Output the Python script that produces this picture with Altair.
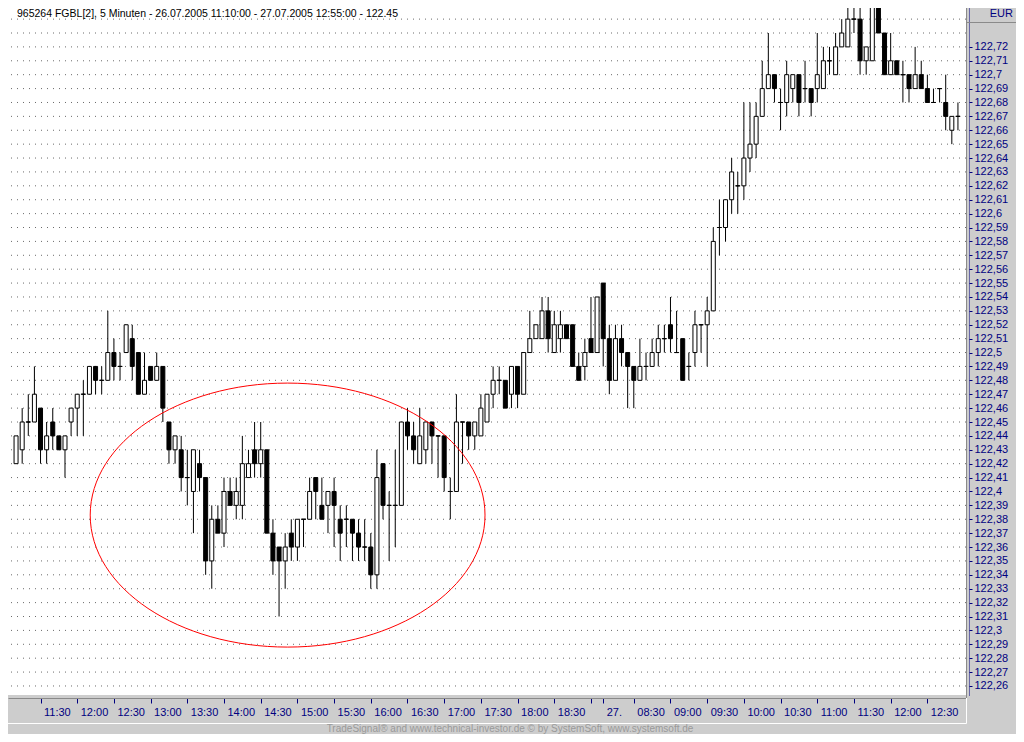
import altair as alt
import pandas as pd

# ---------------- data ----------------
OPEN = [122.42, 122.43, 122.45, 122.45, 122.46, 122.43, 122.45, 122.44, 122.43, 122.45,
        122.46, 122.47, 122.47, 122.49, 122.48, 122.48, 122.50, 122.49, 122.50, 122.51,
        122.50, 122.47, 122.49, 122.48, 122.49, 122.45, 122.43, 122.43, 122.41, 122.40,
        122.42, 122.41, 122.35, 122.38, 122.37, 122.40, 122.39, 122.39, 122.41, 122.43,
        122.42, 122.43, 122.37, 122.36, 122.35, 122.37, 122.36, 122.38, 122.38, 122.41,
        122.39, 122.39, 122.40, 122.38, 122.38, 122.38, 122.37, 122.36, 122.36, 122.34,
        122.42, 122.39, 122.39, 122.39, 122.45, 122.44, 122.42, 122.43, 122.45, 122.44,
        122.44, 122.40, 122.40, 122.45, 122.45, 122.44, 122.44, 122.45, 122.47, 122.48,
        122.48, 122.47, 122.49, 122.47, 122.50, 122.51, 122.51, 122.53, 122.50, 122.51,
        122.52, 122.52, 122.49, 122.49, 122.51, 122.50, 122.55, 122.51, 122.48, 122.51,
        122.50, 122.49, 122.48, 122.49, 122.49, 122.50, 122.51, 122.52, 122.50, 122.51,
        122.49, 122.50, 122.52, 122.52, 122.53, 122.59, 122.59, 122.61, 122.62, 122.62,
        122.64, 122.65, 122.67, 122.69, 122.70, 122.68, 122.68, 122.69, 122.70, 122.69,
        122.69, 122.69, 122.69, 122.71, 122.70, 122.72, 122.72, 122.74, 122.74, 122.71,
        122.71, 122.75, 122.73, 122.70, 122.71, 122.70, 122.70, 122.69, 122.70, 122.69,
        122.68, 122.69, 122.68, 122.66, 122.67]
HIGH = [122.44, 122.46, 122.47, 122.49, 122.46, 122.45, 122.46, 122.44, 122.44, 122.46,
        122.47, 122.48, 122.49, 122.49, 122.49, 122.53, 122.51, 122.50, 122.52, 122.52,
        122.50, 122.50, 122.49, 122.50, 122.49, 122.45, 122.44, 122.44, 122.43, 122.43,
        122.43, 122.41, 122.39, 122.39, 122.41, 122.41, 122.41, 122.44, 122.43, 122.45,
        122.45, 122.43, 122.38, 122.36, 122.37, 122.38, 122.38, 122.38, 122.41, 122.41,
        122.41, 122.40, 122.41, 122.39, 122.39, 122.38, 122.38, 122.38, 122.37, 122.43,
        122.42, 122.40, 122.43, 122.45, 122.46, 122.45, 122.46, 122.45, 122.45, 122.44,
        122.44, 122.41, 122.47, 122.45, 122.45, 122.45, 122.47, 122.47, 122.49, 122.49,
        122.48, 122.49, 122.49, 122.50, 122.53, 122.52, 122.54, 122.54, 122.53, 122.53,
        122.52, 122.52, 122.50, 122.51, 122.54, 122.54, 122.55, 122.52, 122.52, 122.52,
        122.50, 122.49, 122.51, 122.50, 122.51, 122.52, 122.52, 122.54, 122.53, 122.51,
        122.50, 122.53, 122.52, 122.54, 122.59, 122.61, 122.61, 122.64, 122.63, 122.68,
        122.68, 122.68, 122.71, 122.73, 122.70, 122.69, 122.71, 122.70, 122.70, 122.71,
        122.69, 122.73, 122.72, 122.72, 122.73, 122.74, 122.75, 122.75, 122.76, 122.72,
        122.76, 122.76, 122.73, 122.73, 122.71, 122.71, 122.70, 122.72, 122.71, 122.70,
        122.69, 122.69, 122.70, 122.67, 122.68]
LOW = [122.42, 122.42, 122.44, 122.45, 122.42, 122.42, 122.43, 122.43, 122.41, 122.44,
       122.44, 122.44, 122.47, 122.47, 122.47, 122.48, 122.48, 122.48, 122.50, 122.48,
       122.47, 122.47, 122.48, 122.48, 122.45, 122.42, 122.42, 122.40, 122.39, 122.37,
       122.40, 122.34, 122.33, 122.37, 122.36, 122.39, 122.38, 122.38, 122.41, 122.41,
       122.41, 122.37, 122.34, 122.31, 122.33, 122.35, 122.35, 122.36, 122.38, 122.38,
       122.38, 122.37, 122.36, 122.35, 122.36, 122.35, 122.35, 122.35, 122.33, 122.33,
       122.38, 122.35, 122.36, 122.39, 122.43, 122.42, 122.42, 122.42, 122.42, 122.41,
       122.40, 122.38, 122.40, 122.42, 122.43, 122.43, 122.44, 122.45, 122.46, 122.47,
       122.46, 122.46, 122.46, 122.47, 122.50, 122.51, 122.51, 122.50, 122.50, 122.50,
       122.51, 122.49, 122.48, 122.48, 122.50, 122.50, 122.49, 122.47, 122.48, 122.49,
       122.46, 122.46, 122.48, 122.48, 122.49, 122.49, 122.50, 122.50, 122.50, 122.48,
       122.48, 122.49, 122.50, 122.49, 122.53, 122.57, 122.58, 122.60, 122.60, 122.61,
       122.63, 122.64, 122.67, 122.69, 122.68, 122.66, 122.67, 122.68, 122.67, 122.68,
       122.67, 122.68, 122.69, 122.70, 122.70, 122.72, 122.72, 122.73, 122.70, 122.70,
       122.71, 122.73, 122.70, 122.70, 122.70, 122.68, 122.68, 122.69, 122.69, 122.68,
       122.68, 122.68, 122.66, 122.65, 122.66]
CLOSE = [122.44, 122.45, 122.45, 122.47, 122.43, 122.44, 122.44, 122.43, 122.44, 122.46,
         122.47, 122.47, 122.49, 122.48, 122.48, 122.50, 122.49, 122.49, 122.52, 122.49,
         122.47, 122.48, 122.48, 122.49, 122.46, 122.43, 122.44, 122.41, 122.41, 122.43,
         122.41, 122.35, 122.38, 122.37, 122.40, 122.39, 122.40, 122.42, 122.42, 122.42,
         122.43, 122.37, 122.35, 122.35, 122.36, 122.36, 122.38, 122.38, 122.40, 122.40,
         122.38, 122.40, 122.39, 122.37, 122.38, 122.37, 122.36, 122.36, 122.34, 122.41,
         122.39, 122.39, 122.39, 122.45, 122.44, 122.43, 122.44, 122.45, 122.44, 122.44,
         122.41, 122.40, 122.45, 122.45, 122.44, 122.45, 122.46, 122.47, 122.48, 122.48,
         122.46, 122.49, 122.47, 122.50, 122.51, 122.52, 122.53, 122.51, 122.52, 122.52,
         122.51, 122.49, 122.48, 122.50, 122.50, 122.54, 122.51, 122.48, 122.51, 122.50,
         122.49, 122.48, 122.49, 122.49, 122.50, 122.51, 122.51, 122.51, 122.50, 122.48,
         122.49, 122.52, 122.52, 122.53, 122.58, 122.59, 122.61, 122.63, 122.62, 122.64,
         122.65, 122.67, 122.69, 122.70, 122.69, 122.68, 122.70, 122.70, 122.68, 122.69,
         122.68, 122.70, 122.71, 122.71, 122.72, 122.73, 122.74, 122.74, 122.71, 122.72,
         122.75, 122.73, 122.70, 122.71, 122.70, 122.70, 122.69, 122.70, 122.69, 122.68,
         122.68, 122.69, 122.67, 122.67, 122.67]
BARS = list(range(len(OPEN)))

X_TICK_BARS = [4, 10, 16, 22, 28, 34, 40, 46, 52, 58, 64, 70, 76, 82, 88, 94,
               96, 101, 107, 113, 119, 125, 131, 137, 143, 149]
X_TICK_LABELS = ["11:30", "12:00", "12:30", "13:00", "13:30", "14:00", "14:30", "15:00",
                 "15:30", "16:00", "16:30", "17:00", "17:30", "18:00", "18:30", "",
                 "27.", "08:30", "09:00", "09:30", "10:00", "10:30", "11:00", "11:30",
                 "12:00", "12:30"]

Y_LABEL_PRICES = [122.26, 122.27, 122.28, 122.29, 122.30, 122.31, 122.32, 122.33, 122.34,
                  122.35, 122.36, 122.37, 122.38, 122.39, 122.40, 122.41, 122.42, 122.43,
                  122.44, 122.45, 122.46, 122.47, 122.48, 122.49, 122.50, 122.51, 122.52,
                  122.53, 122.54, 122.55, 122.56, 122.57, 122.58, 122.59, 122.60, 122.61,
                  122.62, 122.63, 122.64, 122.65, 122.66, 122.67, 122.68, 122.69, 122.70,
                  122.71, 122.72]
GRID_PRICES = Y_LABEL_PRICES + [122.73, 122.74]

TITLE = "965264  FGBL[2], 5 Minuten - 26.07.2005 11:10:00 - 27.07.2005 12:55:00 - 122.45"
FOOTER = "TradeSignal\u00ae and www.technical-investor.de \u00a9 by SystemSoft, www.systemsoft.de"
CURRENCY = "EUR"

# annotation ellipse (centre in data units)
ELLIPSE_BAR = 44.4
ELLIPSE_PRICE = 122.383

# ---------------- layout / style ----------------
W, H = 958, 687          # plot area
PAD_R, PAD_B = 50, 39    # right price panel, bottom time strip + footer
NAVY = "#000080"
PANEL = "#cdcdcd"
FONT = "Liberation Sans"

df = pd.DataFrame({"bar": BARS, "o": OPEN, "h": HIGH, "l": LOW, "c": CLOSE})

xlab_expr = "[" + ",".join("'%s'" % s for s in X_TICK_LABELS) + "][indexof([" + \
    ",".join(str(b) for b in X_TICK_BARS) + "], datum.value)]"

XS = alt.Scale(domain=[-0.5, 154.5], nice=False, zero=False)
YS = alt.Scale(domain=[122.2535, 122.748], nice=False, zero=False)

XAX = alt.Axis(orient="bottom", values=X_TICK_BARS, labelExpr=xlab_expr, offset=3,
               tickSize=5, tickColor=NAVY, domainColor="#8a8a8a", labelColor=NAVY,
               labelFont=FONT, labelFontSize=11, labelAlign="left", labelBaseline="top",
               labelOffset=3, labelPadding=3, labelOverlap=False, labelFlush=False,
               labelBound=False, grid=False, title=None)
YAX = alt.Axis(orient="right", values=Y_LABEL_PRICES,
               labelExpr="replace(format(datum.value, '.2~f'), '.', ',')",
               offset=3, tickSize=3, tickColor=NAVY, domainColor=NAVY, domainDash=[1, 1],
               labelColor=NAVY, labelFont=FONT, labelFontSize=11, labelPadding=2,
               labelOverlap=False, labelFlush=False, labelBound=False, grid=False,
               title=None)

X = alt.X("bar:Q", scale=XS, axis=XAX)

grid = alt.Chart(pd.DataFrame({"p": GRID_PRICES})).mark_rule(
    color="#6a6a6a", strokeDash=[1, 5], strokeWidth=1
).encode(y=alt.Y("p:Q", scale=YS, axis=YAX))

base = alt.Chart(df)
wicks = base.mark_rule(color="black", strokeWidth=1, clip=True).encode(
    x=X, y=alt.Y("l:Q", scale=YS, axis=YAX), y2="h:Q")
bodies = base.mark_bar(size=4, stroke="black", strokeWidth=1, clip=True).encode(
    x=X, y=alt.Y("o:Q", scale=YS, axis=YAX), y2="c:Q",
    fill=alt.condition("datum.c > datum.o", alt.value("white"), alt.value("black")))
dojis = base.transform_filter("datum.o == datum.c").mark_tick(
    orient="horizontal", size=5, thickness=1, color="black", clip=True
).encode(x=X, y=alt.Y("o:Q", scale=YS, axis=YAX))

ellipse_path = ("M 1 0 C 1 0.3693 0.5523 0.6687 0 0.6687 C -0.5523 0.6687 -1 0.3693 -1 0 "
                "C -1 -0.3693 -0.5523 -0.6687 0 -0.6687 C 0.5523 -0.6687 1 -0.3693 1 0 Z")
ellipse = alt.Chart(pd.DataFrame({"bar": [ELLIPSE_BAR], "p": [ELLIPSE_PRICE]})).mark_point(
    shape=ellipse_path, size=155867, filled=False, stroke="#ff0000", strokeWidth=1,
    opacity=1
).encode(x=X, y=alt.Y("p:Q", scale=YS, axis=YAX))

one = pd.DataFrame({"k": [0]})
title_txt = alt.Chart(one).mark_text(
    align="left", baseline="middle", font=FONT, fontSize=10.5, color="black"
).encode(x=alt.value(9), y=alt.value(6), text=alt.value(TITLE))
eur_txt = alt.Chart(one).mark_text(
    align="right", baseline="middle", font=FONT, fontSize=11, color=NAVY
).encode(x=alt.value(1005), y=alt.value(6), text=alt.value(CURRENCY))
footer_txt = alt.Chart(one).mark_text(
    align="center", baseline="middle", font=FONT, fontSize=10, color="#9a9a9a"
).encode(x=alt.value(502), y=alt.value(721), text=alt.value(FOOTER))

panel_edge = alt.Chart(one).mark_rule(color="#8a8a8a", strokeWidth=1).encode(
    x=alt.value(958.5), y=alt.value(0), y2=alt.value(690))
eur_line = alt.Chart(one).mark_rule(color="#8a8a8a", strokeWidth=1).encode(
    x=alt.value(959), x2=alt.value(1008), y=alt.value(14.5))
strip_low = alt.Chart(one).mark_rule(color="white", strokeWidth=1).encode(
    x=alt.value(0), x2=alt.value(958.5), y=alt.value(715.5))
strip_end = alt.Chart(one).mark_rule(color="white", strokeWidth=1).encode(
    x=alt.value(958.5), y=alt.value(690), y2=alt.value(715.5))

chart = alt.layer(
    grid, wicks, bodies, dojis, ellipse, title_txt,
    panel_edge, eur_line, eur_txt, strip_low, strip_end, footer_txt
).properties(
    width=W, height=H, background=PANEL,
    padding={"left": 0, "top": 0, "right": PAD_R, "bottom": PAD_B},
    autosize=alt.AutoSizeParams(type="none"),
).configure_view(fill="white", strokeWidth=0)

chart.save("out.html", embed_options={"renderer": "svg", "actions": False})
